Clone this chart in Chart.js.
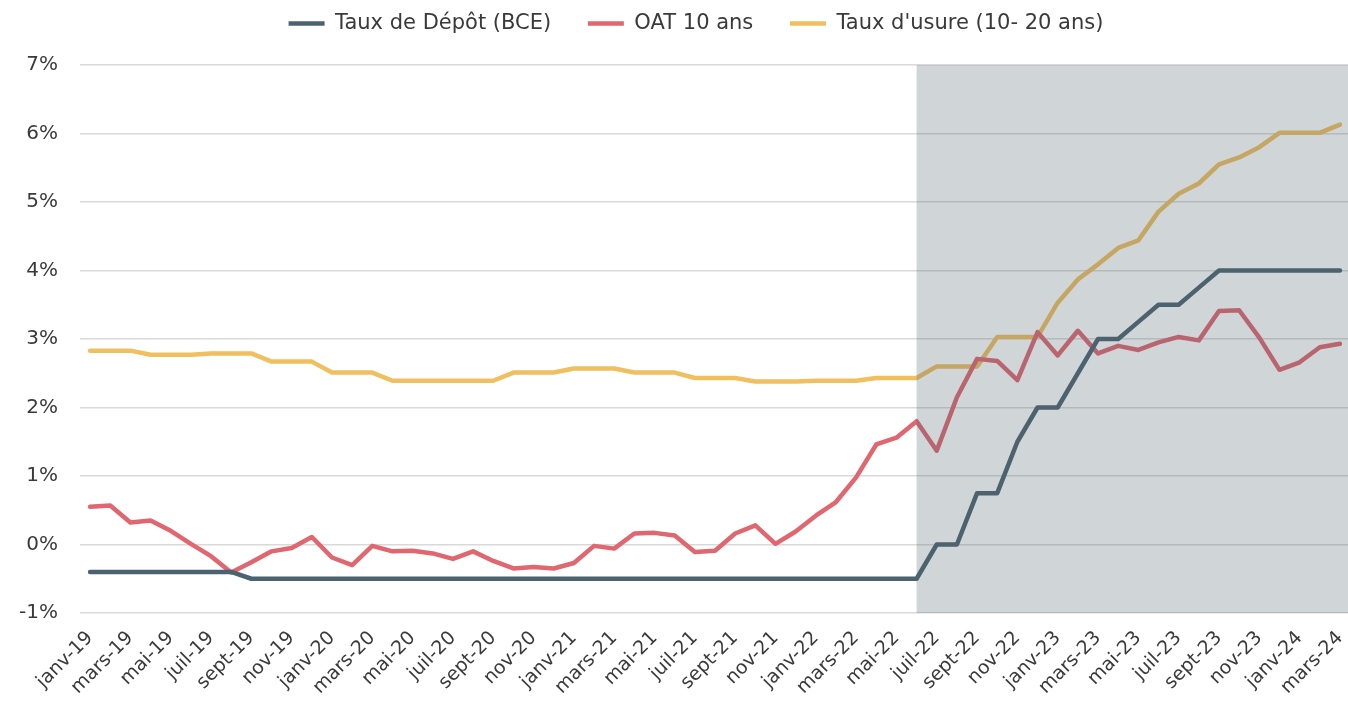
<!DOCTYPE html>
<html>
<head>
<meta charset="utf-8">
<script src="https://cdn.jsdelivr.net/npm/chart.js@4.4.1/dist/chart.umd.min.js"></script>
<style>
  html, body { margin: 0; padding: 0; background: #fff; }
  #wrap { width: 1348px; height: 707px; position: relative; }
</style>
</head>
<body>
<div id="wrap"><canvas id="myChart"></canvas></div>
<script>
// months, janv-19 .. mars-24
var months = [
  'janv-19','févr-19','mars-19','avr-19','mai-19','juin-19','juil-19','août-19','sept-19','oct-19','nov-19','déc-19',
  'janv-20','févr-20','mars-20','avr-20','mai-20','juin-20','juil-20','août-20','sept-20','oct-20','nov-20','déc-20',
  'janv-21','févr-21','mars-21','avr-21','mai-21','juin-21','juil-21','août-21','sept-21','oct-21','nov-21','déc-21',
  'janv-22','févr-22','mars-22','avr-22','mai-22','juin-22','juil-22','août-22','sept-22','oct-22','nov-22','déc-22',
  'janv-23','févr-23','mars-23','avr-23','mai-23','juin-23','juil-23','août-23','sept-23','oct-23','nov-23','déc-23',
  'janv-24','févr-24','mars-24'
];

// Taux de dépôt BCE (%)
var depot = [
  -0.4,-0.4,-0.4,-0.4,-0.4,-0.4,-0.4,-0.4,-0.5,-0.5,-0.5,-0.5,
  -0.5,-0.5,-0.5,-0.5,-0.5,-0.5,-0.5,-0.5,-0.5,-0.5,-0.5,-0.5,
  -0.5,-0.5,-0.5,-0.5,-0.5,-0.5,-0.5,-0.5,-0.5,-0.5,-0.5,-0.5,
  -0.5,-0.5,-0.5,-0.5,-0.5,-0.5,0,0,0.75,0.75,1.5,2,
  2,2.5,3,3,3.25,3.5,3.5,3.75,4,4,4,4,
  4,4,4
];

// OAT 10 ans (%)
var oat = [
  0.55,0.57,0.32,0.35,0.20,0.01,-0.17,-0.41,-0.26,-0.10,-0.05,0.11,
  -0.19,-0.30,-0.02,-0.10,-0.09,-0.13,-0.21,-0.10,-0.24,-0.35,-0.33,-0.35,
  -0.27,-0.02,-0.06,0.16,0.17,0.13,-0.11,-0.09,0.16,0.28,0.01,0.19,
  0.42,0.62,0.98,1.46,1.56,1.80,1.37,2.15,2.71,2.68,2.40,3.10,
  2.76,3.12,2.79,2.90,2.84,2.95,3.03,2.98,3.41,3.42,3.02,2.55,
  2.66,2.88,2.93
];

// Taux d'usure 10-20 ans (%)
var usure = [
  2.83,2.83,2.83,2.77,2.77,2.77,2.79,2.79,2.79,2.67,2.67,2.67,
  2.51,2.51,2.51,2.39,2.39,2.39,2.39,2.39,2.39,2.51,2.51,2.51,
  2.57,2.57,2.57,2.51,2.51,2.51,2.43,2.43,2.43,2.38,2.38,2.38,
  2.39,2.39,2.39,2.43,2.43,2.43,2.60,2.60,2.60,3.03,3.03,3.03,
  3.53,3.87,4.09,4.33,4.44,4.86,5.12,5.27,5.55,5.65,5.80,6.01,
  6.01,6.01,6.13
];

var yTicks = [-1, 0, 1, 2, 3, 4, 5, 6, 7];
var shadeFrom = 'juin-22';

function pts(arr) {
  return arr.map(function (v, i) { return { x: i, y: v }; });
}

var FONT = "'DejaVu Sans'";
var TXT = '#3a3a3a';

// grey band over the 2022-2024 period, drawn on top of the lines
var shadePlugin = {
  id: 'shade',
  afterDatasetsDraw: function (chart) {
    var ctx = chart.ctx, a = chart.chartArea;
    var x0 = chart.scales.x.getPixelForValue(months.indexOf(shadeFrom));
    ctx.save();
    ctx.fillStyle = 'rgba(80, 100, 110, 0.27)';
    ctx.fillRect(x0, a.top, a.right - x0, a.bottom - a.top);
    ctx.restore();
  }
};

// extra room under the legend, and nudge it a bit to the right
var legendGap = {
  id: 'legendGap',
  beforeInit: function (chart) {
    var fit = chart.legend.fit;
    chart.legend.fit = function () {
      fit.bind(chart.legend)();
      this.height += 21;
    };
  },
  afterLayout: function (chart) {
    chart.legend.left += 22;
    chart.legend.right += 22;
  }
};

function line(label, arr, color) {
  return {
    label: label,
    data: pts(arr),
    borderColor: color,
    backgroundColor: color,
    borderWidth: 4.5,
    pointRadius: 0,
    tension: 0,
    borderJoinStyle: 'round',
    borderCapStyle: 'round'
  };
}

var ctx = document.getElementById('myChart').getContext('2d');
var myChart = new Chart(ctx, {
  type: 'line',
  data: {
    datasets: [
      line('Taux de Dépôt (BCE)', depot, '#4b6270'),
      line('OAT 10 ans', oat, '#e0666f'),
      line("Taux d'usure (10- 20 ans)", usure, '#f0bf5f')
    ]
  },
  plugins: [shadePlugin, legendGap],
  options: {
    responsive: true,
    maintainAspectRatio: false,
    animation: false,
    layout: { padding: { top: 3, right: 0, left: 0, bottom: 0 } },
    plugins: {
      tooltip: { enabled: false },
      legend: {
        position: 'top',
        labels: {
          usePointStyle: true,
          pointStyle: 'line',
          pointStyleWidth: 36,
          padding: 10,
          color: TXT,
          font: { family: FONT, size: 21 },
          generateLabels: function (chart) {
            var items = Chart.defaults.plugins.legend.labels.generateLabels(chart);
            items.forEach(function (it, i) {
              if (i < items.length - 1) it.text = it.text + '    ';
            });
            return items;
          }
        }
      }
    },
    scales: {
      x: {
        type: 'linear',
        min: -0.5,
        max: 62.4,
        afterBuildTicks: function (s) {
          s.ticks = months.map(function (m, i) { return { value: i }; })
            .filter(function (t) { return t.value % 2 === 0; });
        },
        afterFit: function (s) { s.height = 94; s.paddingRight = 0; s.paddingLeft = 0; },
        grid: { display: false },
        border: { display: false },
        ticks: {
          autoSkip: false,
          maxRotation: 45,
          minRotation: 45,
          padding: 6,
          color: TXT,
          font: { family: FONT, size: 19 },
          callback: function (v) { return months[v]; }
        }
      },
      y: {
        min: -1,
        max: 7,
        afterBuildTicks: function (s) {
          s.ticks = yTicks.map(function (v) { return { value: v }; });
        },
        afterFit: function (s) { s.width = 80; },
        border: { display: false },
        grid: { color: '#d9d9d9', lineWidth: 1.5, drawTicks: false },
        ticks: {
          padding: 22,
          color: TXT,
          font: { family: FONT, size: 20 },
          callback: function (v) { return v + '%'; }
        }
      }
    }
  }
});
</script>
</body>
</html>
